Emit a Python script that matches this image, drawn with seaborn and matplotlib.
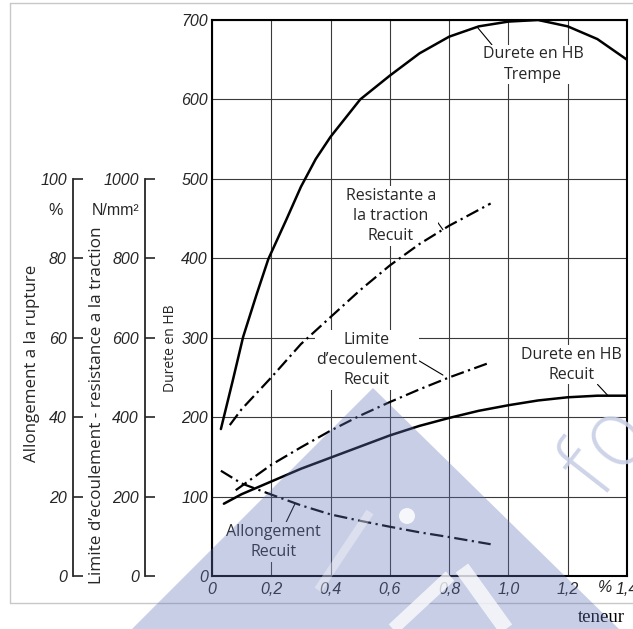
import matplotlib
matplotlib.use("Agg")
import matplotlib.pyplot as plt
import seaborn as sns
from matplotlib.font_manager import FontProperties
from matplotlib.patches import Polygon, Circle
from matplotlib.lines import Line2D

# ---------------- data ----------------
teneur_ticks = [0, 0.2, 0.4, 0.6, 0.8, 1.0, 1.2, 1.4]
teneur_labels = ["0", "0,2", "0,4", "0,6", "0,8", "1,0", "1,2", "1,4"]
hb_ticks = [0, 100, 200, 300, 400, 500, 600, 700]
pct_ticks = [0, 20, 40, 60, 80, 100]
nmm_ticks = [0, 200, 400, 600, 800, 1000]

# Durete en HB - Trempe (HB)
teneur_trempe = [0.03, 0.07, 0.105, 0.15, 0.19, 0.25, 0.3, 0.35, 0.4, 0.5,
                 0.6, 0.7, 0.8, 0.9, 1.0, 1.1, 1.2, 1.3, 1.4]
durete_trempe = [185, 246, 301, 354, 399, 448, 490, 525, 553, 600,
                 630, 658, 679, 692, 698, 700, 692, 676, 650]

# Durete en HB - Recuit (HB)
teneur_durete_recuit = [0.04, 0.1, 0.2, 0.3, 0.4, 0.5, 0.6, 0.7, 0.8, 0.9,
                        1.0, 1.1, 1.2, 1.3, 1.4]
durete_recuit = [91, 103, 119, 135, 149, 163, 177, 189, 199, 208,
                 215, 221, 225, 227, 227]

# Resistance a la traction - Recuit (N/mm2)
teneur_resistance = [0.06, 0.08, 0.1, 0.2, 0.3, 0.4, 0.5, 0.6, 0.7, 0.8, 0.94]
resistance_recuit = [380, 400, 420, 500, 584, 652, 720, 782, 836, 882, 938]

# Limite d'ecoulement - Recuit (N/mm2)
teneur_limite = [0.08, 0.2, 0.3, 0.4, 0.5, 0.6, 0.7, 0.8, 0.94]
limite_recuit = [216, 280, 324, 366, 404, 438, 470, 500, 538]

# Allongement a la rupture - Recuit (%)
teneur_allongement = [0.03, 0.1, 0.2, 0.3, 0.4, 0.5, 0.6, 0.7, 0.8, 0.94]
allongement_recuit = [26.5, 23.3, 20.5, 17.8, 15.5, 13.9, 12.4, 11.0, 9.8, 8.0]

# ---------------- style ----------------
sns.set_style("white")
plt.rcParams["font.family"] = ["Open Sans", "DejaVu Sans"]

W, H = 633, 629
fig = plt.figure(figsize=(W / 100, H / 100), dpi=100)


def fx(px):
    return px / W


def fy(py):
    return 1 - py / H


L, R, T, B = 212, 627, 20, 576
ax = fig.add_axes([fx(L), fy(B), (R - L) / W, (B - T) / H])

tick_fp = FontProperties(family=["Liberation Sans", "DejaVu Sans"],
                         style="italic", size=11.5)
narrow_fp = FontProperties(family=["Liberation Sans", "DejaVu Sans"], size=11.5)

dashdot = (0, (6, 2, 1, 2))

# main axis (HB)
sns.lineplot(x=teneur_trempe, y=durete_trempe, ax=ax, color="black",
             lw=1.8, sort=False, estimator=None)
sns.lineplot(x=teneur_durete_recuit, y=durete_recuit, ax=ax, color="black",
             lw=1.8, sort=False, estimator=None)
ax.set_xlim(0, 1.4)
ax.set_ylim(0, 700)
ax.set_xticks(teneur_ticks, teneur_labels)
ax.set_yticks(hb_ticks, [str(v) for v in hb_ticks])
for lbl in ax.get_xticklabels() + ax.get_yticklabels():
    lbl.set_fontproperties(tick_fp)
ax.tick_params(axis="both", length=0)
ax.tick_params(axis="y", pad=3)
ax.tick_params(axis="x", pad=4)
ax.grid(True, color="#3a3a3a", lw=0.8)
ax.set_axisbelow(True)
for s in ax.spines.values():
    s.set_visible(True)
    s.set_color("black")
    s.set_linewidth(1.5)
ax.set_xlabel("")
ax.set_ylabel("")

# N/mm2 axis
ax_n = ax.twinx()
sns.lineplot(x=teneur_resistance, y=resistance_recuit, ax=ax_n, color="black",
             lw=1.6, linestyle=dashdot, sort=False, estimator=None)
sns.lineplot(x=teneur_limite, y=limite_recuit, ax=ax_n, color="black",
             lw=1.6, linestyle=dashdot, sort=False, estimator=None)
ax_n.set_ylim(0, 1400)

# % axis
ax_p = ax.twinx()
sns.lineplot(x=teneur_allongement, y=allongement_recuit, ax=ax_p, color="black",
             lw=1.6, linestyle=dashdot, sort=False, estimator=None)
ax_p.set_ylim(0, 140)

for a, ticks, xpx in [(ax_n, nmm_ticks, 145), (ax_p, pct_ticks, 73)]:
    for s in ["top", "right", "bottom"]:
        a.spines[s].set_visible(False)
    a.spines["left"].set_visible(True)
    a.spines["left"].set_position(("axes", (xpx - L) / (R - L)))
    a.spines["left"].set_bounds(0, ticks[-1])
    a.spines["left"].set_linewidth(1.3)
    a.yaxis.tick_left()
    a.set_yticks(ticks, [str(v) for v in ticks])
    for lbl in a.get_yticklabels():
        lbl.set_fontproperties(tick_fp)
    a.tick_params(axis="y", direction="in", length=7, width=1.2, pad=4.5)
    a.set_xlim(0, 1.4)
    a.set_xlabel("")
    a.set_ylabel("")

# axis titles
ax.text((32 - L) / (R - L), (B - 363) / (B - T), "Allongement a la rupture",
        transform=ax.transAxes, rotation=90, ha="center", va="center",
        fontsize=12.2)
ax.text((97 - L) / (R - L), (B - 405) / (B - T),
        "Limite d\u2019ecoulement - resistance a la traction",
        transform=ax.transAxes, rotation=90, ha="center", va="center",
        fontsize=12.3)
ax.text((170 - L) / (R - L), (B - 348) / (B - T), "Durete en HB",
        transform=ax.transAxes, rotation=90, ha="center", va="center",
        fontsize=10)
fig.text(fx(56), fy(211), "%", ha="center", va="center", fontproperties=narrow_fp)
fig.text(fx(116), fy(211), "N/mm\u00b2", ha="center", va="center",
         fontproperties=narrow_fp)
fig.text(fx(605), fy(587), "%", ha="center", va="center", fontproperties=tick_fp)
fig.text(fx(601), fy(618), "teneur", ha="center", va="center",
         family="Liberation Serif", fontsize=13.5, color="black")

# annotations
box = dict(boxstyle="square,pad=0.1", fc="white", ec="none")
arrow = dict(arrowstyle="-", lw=0.8, color="black", shrinkA=0, shrinkB=0)
notes = [
    ("Durete en HB\nTrempe", (0.897, 690), (1.083, 644), (0.12, 0.95)),
    ("Resistante a\nla traction\nRecuit", (0.779, 436), (0.604, 453), (0.99, 0.45)),
    ("Limite\nd\u2019ecoulement\nRecuit", (0.779, 253), (0.523, 272), (1.0, 0.5)),
    ("Durete en HB\nRecuit", (1.336, 227), (1.214, 266), (0.74, 0.0)),
    ("Allongement\nRecuit", (0.28, 91), (0.206, 43), (0.63, 1.0)),
]
for txt, xy, xyt, rp in notes:
    ax.annotate(txt, xy=xy, xytext=xyt, textcoords="data", ha="center",
                va="center", fontsize=11.5, linespacing=1.35, bbox=box,
                arrowprops=dict(arrow, relpos=rp), zorder=5)

# page frame
for (x0, y0, x1, y1) in [(10, 3, 633, 3), (10, 3, 10, 603), (10, 603, 633, 603)]:
    fig.add_artist(Line2D([fx(x0), fx(x1)], [fy(y0), fy(y1)], color="#c8c8c8",
                          lw=1, transform=fig.transFigure))

# watermark
wm = (98 / 255, 115 / 255, 184 / 255)
tri = Polygon([[fx(373), fy(388)], [fx(132), fy(629)], [fx(619), fy(629)]],
              closed=True, transform=fig.transFigure, fc=wm,
              ec="none", alpha=0.35, zorder=10)
fig.add_artist(tri)
fig.add_artist(Circle((fx(407), fy(516)), 8 / W, transform=fig.transFigure,
                      fc="white", ec="none", alpha=0.85, zorder=11))
for (x0, y0, x1, y1, w, al) in [(393, 629, 450, 576, 9, 0.75),
                                (462, 568, 506, 629, 11, 0.75),
                                (318, 590, 370, 512, 6, 0.35)]:
    fig.add_artist(Line2D([fx(x0), fx(x1)], [fy(y0), fy(y1)], color="white",
                          lw=w, alpha=al, solid_capstyle="butt",
                          transform=fig.transFigure, zorder=11))
fig.text(fx(606), fy(448), "fo", rotation=52, fontsize=66, color="#c9cfe6",
         family="DejaVu Sans", weight="light", ha="center", va="center",
         alpha=0.9, zorder=11)

fig.savefig("out.png", dpi=100)
